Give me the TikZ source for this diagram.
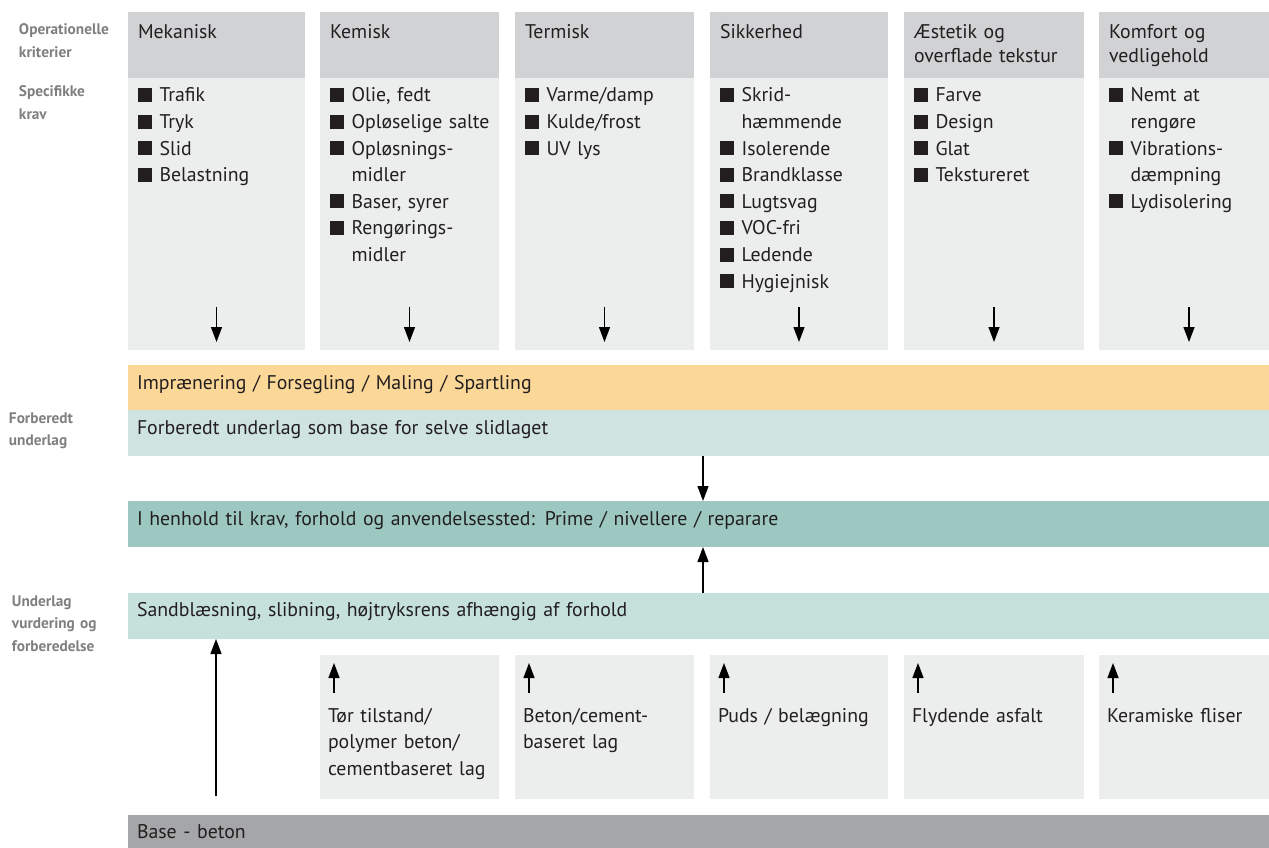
\documentclass[tikz,border=0pt]{standalone}
\usepackage{fontspec}
\setmainfont{PT Sans}
\usetikzlibrary{arrows.meta}
\definecolor{hdrgray}{HTML}{D1D2D4}
\definecolor{bodygray}{HTML}{ECEDED}
\definecolor{orangeband}{HTML}{FCD898}
\definecolor{tealA}{HTML}{CFE3E0}
\definecolor{tealB}{HTML}{9CC8C1}
\definecolor{tealC}{HTML}{C6E1DB}
\definecolor{basegray}{HTML}{A5A6A8}
\definecolor{lblgray}{HTML}{7E7F81}
\definecolor{ink}{HTML}{231F20}
\newcommand{\itm}[1]{\noindent\hangindent=21.5pt\hangafter=1\makebox[21.5pt][l]{\rule{14pt}{14pt}}#1\par}
\newcommand{\brk}{\hfil\break}
\tikzset{
  box/.style={draw=none,inner sep=0pt,outer sep=0pt,anchor=north west},
  txt/.style={inner sep=0pt,outer sep=0pt,anchor=base west,text=ink,font=\fontsize{19.8}{24}\selectfont,text width=#1,align=left},
  txt/.default=180pt,
  lst/.style={inner sep=0pt,outer sep=0pt,anchor=base west,text=ink,font=\fontsize{19.8}{26.6}\selectfont,text width=#1,align=left},
  lbl/.style={inner sep=0pt,outer sep=0pt,anchor=base west,text=lblgray,font=\fontsize{15.3}{22.5}\selectfont\bfseries,text width=110pt,align=left},
  arr/.style={-{Triangle[length=15pt,width=11pt]},line width=1.3pt,draw=black},
}
\begin{document}
\begin{tikzpicture}[x=1pt,y=-1pt]
\useasboundingbox (0,0) rectangle (1269,848);
% left labels
\node[lbl] (l1) at (19,35) {Operationelle\\kriterier};
\node[lbl] (l2) at (19,97) {Specifikke\\krav};
\node[lbl] (l3) at (9,423) {Forberedt\\underlag};
\node[lbl] (l4) at (12,606) {Underlag\\vurdering og\\forberedelse};
% columns
\foreach \i/\x/\w in {1/128/177,2/320/179,3/515/179,4/710/178,5/904/180,6/1099/180}{
  \fill[hdrgray] (\x,12) rectangle ++(\w,66);
  \fill[bodygray] (\x,78) rectangle ++(\w,272);
  \node[box,minimum width=\w,minimum height=66] (h\i) at (\x,12) {};
  \node[box,minimum width=\w,minimum height=272] (b\i) at (\x,78) {};
}
\node[txt] (ht1) at (138,39) {Mekanisk};
\node[txt] (ht2) at (330,39) {Kemisk};
\node[txt] (ht3) at (525,39) {Termisk};
\node[txt] (ht4) at (720,39) {Sikkerhed};
\node[txt] (ht5) at (914,39) {Æstetik og\\overflade tekstur};
\node[txt] (ht6) at (1109,39) {Komfort og\\vedligehold};
\node[lst=168pt] (bt1) at (138,102) {\itm{Trafik}\itm{Tryk}\itm{Slid}\itm{Belastning}};
\node[lst=168pt] (bt2) at (330,102) {\itm{Olie, fedt}\itm{Opløselige salte}\itm{Opløsnings-\brk midler}\itm{Baser, syrer}\itm{Rengørings-\brk midler}};
\node[lst=168pt] (bt3) at (525,102) {\itm{Varme/damp}\itm{Kulde/frost}\itm{UV lys}};
\node[lst=168pt] (bt4) at (720,102) {\itm{Skrid-\brk hæmmende}\itm{Isolerende}\itm{Brandklasse}\itm{Lugtsvag}\itm{VOC-fri}\itm{Ledende}\itm{Hygiejnisk}};
\node[lst=168pt] (bt5) at (914,102) {\itm{Farve}\itm{Design}\itm{Glat}\itm{Tekstureret}};
\node[lst=168pt] (bt6) at (1109,102) {\itm{Nemt at\brk rengøre}\itm{Vibrations-\brk dæmpning}\itm{Lydisolering}};
\foreach \i in {1,...,6}{
  \draw[arr] ([yshift=43pt]b\i.south) -- ([yshift=8pt]b\i.south);
}
% bands
\fill[orangeband] (128,365) rectangle (1269,410);
\fill[tealA] (128,410) rectangle (1269,456);
\fill[tealB] (128,501) rectangle (1269,547);
\fill[tealC] (128,593) rectangle (1269,639);
\fill[basegray] (128,815) rectangle (1269,848);
\node[box,minimum width=1141,minimum height=45] (imp) at (128,365) {};
\node[box,minimum width=1141,minimum height=46] (forb) at (128,410) {};
\node[box,minimum width=1141,minimum height=46] (henh) at (128,501) {};
\node[box,minimum width=1141,minimum height=46] (sand) at (128,593) {};
\node[box,minimum width=1141,minimum height=33] (base) at (128,815) {};
\node[txt=1100pt] (impt) at (137,389) {Imprænering / Forsegling / Maling / Spartling};
\node[txt=1100pt] (forbt) at (137,434) {Forberedt underlag som base for selve slidlaget};
\node[txt=1100pt] (henht) at (137,525) {I henhold til krav, forhold og anvendelsessted: Prime / nivellere / reparare};
\node[txt=1100pt] (sandt) at (137,616) {Sandblæsning, slibning, højtryksrens afhængig af forhold};
\node[txt=1100pt] (baset) at (137,838) {Base - beton};
\draw[arr] (forb.south -| 703,0) -- (henh.north -| 703,0);
\draw[arr] (sand.north -| 703,0) -- (henh.south -| 703,0);
\draw[arr] ([yshift=19pt]base.north -| 216,0) -- (sand.south -| 216,0);
% bottom boxes
\foreach \i/\x/\w in {2/320/179,3/515/179,4/710/178,5/904/180,6/1099/180}{
  \fill[bodygray] (\x,655) rectangle ++(\w,144);
  \node[box,minimum width=\w,minimum height=144] (s\i) at (\x,655) {};
  \draw[arr] ([xshift=14pt,yshift=-38pt]s\i.north west) -- ([xshift=14pt,yshift=-8pt]s\i.north west);
}
\node[lst=175pt] (st2) at (328,722) {Tør tilstand/\\polymer beton/\\cementbaseret lag};
\node[lst=175pt] (st3) at (523,722) {Beton/cement-\\baseret lag};
\node[lst=175pt] (st4) at (718,722) {Puds / belægning};
\node[lst=175pt] (st5) at (912,722) {Flydende asfalt};
\node[lst=175pt] (st6) at (1107,722) {Keramiske fliser};
\end{tikzpicture}
\end{document}
